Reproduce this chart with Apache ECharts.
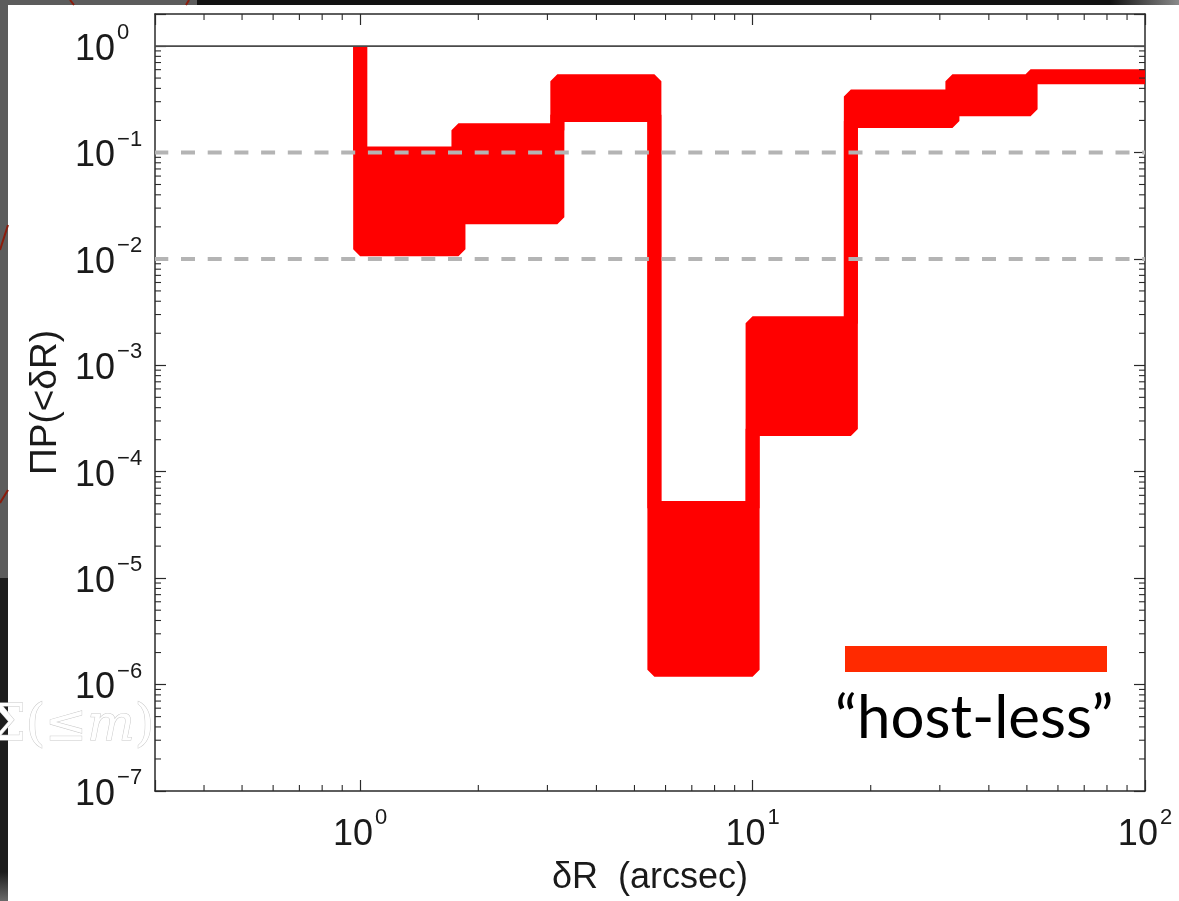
<!DOCTYPE html>
<html>
<head>
<meta charset="utf-8">
<script src="https://cdn.jsdelivr.net/npm/echarts@6/dist/echarts.min.js"></script>
<style>
  html, body { margin: 0; padding: 0; background: #ffffff; }
  #chart { width: 1179px; height: 901px; }
</style>
</head>
<body>
<div id="chart"></div>
<script>
// Cumulative chance-coincidence probability band, ΠP(<δR), against offset δR.
// Offsets (arcsec) where both bounds step to a new level.
const stepsAt      = [1.0, 1.78, 3.18, 5.62, 10.0, 17.8, 32.3, 51.1];
// Level held by each bound after each step.
const upperLevels  = [0.098, 0.162, 0.466, 4.56e-5, 2.49e-3, 0.335, 0.466, 0.52];
const lowerLevels  = [0.0123, 0.0246, 0.225, 1.38e-6, 2.52e-4, 0.198, 0.2545, 0.51];
// Both bounds begin at P = 1 at the first step.
const bandStart = 1;

// Axis ranges and reference levels.
const xRange = [0.3, 100];
const yRange = [1e-7, 2];
const refSolid = [1];
const refDashed = [0.1, 0.01];

const FONT = "'Liberation Sans', Arial, Helvetica, sans-serif";
const INK = '#1a1a1a';
const RED = '#ff0000';

// Log minor-tick positions (2..9 × 10^k) inside a range.
function minorTicks(range) {
  const out = [];
  const k0 = Math.floor(Math.log10(range[0]));
  const k1 = Math.ceil(Math.log10(range[1]));
  for (let k = k0; k <= k1; k++) {
    for (let m = 2; m <= 9; m++) {
      const v = m * Math.pow(10, k);
      if (v > range[0] * 1.0001 && v < range[1] * 0.9999) out.push(v);
    }
  }
  return out;
}
const xMinor = minorTicks(xRange);
const yMinor = minorTicks(yRange);

// Step outline of one bound, as [x, P] vertices.
function stepPath(levels) {
  const pts = [[stepsAt[0], bandStart]];
  for (let i = 0; i < levels.length; i++) {
    const xEnd = i + 1 < stepsAt.length ? stepsAt[i + 1] : xRange[1];
    pts.push([stepsAt[i], levels[i]]);
    pts.push([xEnd, levels[i]]);
  }
  return pts;
}
const upperPath = stepPath(upperLevels);
const lowerPath = stepPath(lowerLevels);

// Tick labels as 10^n with a raised exponent.
function powLabel(v) {
  const lg = Math.log10(v);
  const e = Math.round(lg);
  if (Math.abs(lg - e) > 1e-6) return '';
  return '{b|10}{s|' + (e < 0 ? '\u2212' + (-e) : String(e)) + '}';
}
const labelRich = {
  b: { fontFamily: FONT, fontSize: 36, color: INK, lineHeight: 56, verticalAlign: 'middle' },
  s: { fontFamily: FONT, fontSize: 22, color: INK, lineHeight: 24, verticalAlign: 'top', padding: [0, 0, 0, 2] }
};

const frameLine = { show: true, onZero: false, lineStyle: { color: '#2a2a2a', width: 1.5 } };
const majorTick = { show: true, inside: true, length: 11, lineStyle: { color: '#2a2a2a', width: 1.2 } };

function logAxis(range, extra) {
  return Object.assign({
    type: 'log', logBase: 10, min: range[0], max: range[1],
    axisLine: frameLine, axisTick: majorTick,
    splitLine: { show: false }, minorTick: { show: false }
  }, extra);
}

const serif = "'DejaVu Serif', 'Liberation Serif', serif";

const option = {
  animation: false,
  backgroundColor: '#ffffff',
  grid: { left: 155, right: 34, top: 14, bottom: 110, containLabel: false },
  xAxis: [
    logAxis(xRange, {
      position: 'bottom',
      axisLabel: { formatter: powLabel, rich: labelRich, margin: 16, align: 'center' },
      name: 'δR  (arcsec)', nameLocation: 'middle', nameGap: 69,
      nameTextStyle: { fontFamily: FONT, fontSize: 36, color: INK }
    }),
    logAxis(xRange, { position: 'top', axisLabel: { show: false } })
  ],
  yAxis: [
    logAxis(yRange, {
      position: 'left',
      axisLabel: { formatter: powLabel, rich: labelRich, margin: 80, align: 'left', padding: [8, 0, 0, 0] },
      name: 'ΠP(<δR)', nameLocation: 'middle', nameGap: 91,
      nameTextStyle: { fontFamily: FONT, fontSize: 37, color: INK }
    }),
    logAxis(yRange, { position: 'right', axisLabel: { show: false } })
  ],
  graphic: [
    // surrounding slide edges
    { type: 'rect', left: 0, top: 0, shape: { width: 8, height: 578 }, style: { fill: '#5c5c5c' }, silent: true },
    { type: 'rect', left: 0, top: 578, shape: { width: 8, height: 295 }, style: { fill: '#1d1d1d' }, silent: true },
    { type: 'rect', left: 0, top: 872, shape: { width: 8, height: 29 },
      style: { fill: new echarts.graphic.LinearGradient(0, 0, 0, 1, [{ offset: 0, color: '#1d1d1d' }, { offset: 1, color: '#6a6a6a' }]) }, silent: true },
    { type: 'rect', left: 0, top: 0, shape: { width: 197, height: 5 }, style: { fill: '#5c5c5c' }, silent: true },
    { type: 'rect', left: 197, top: 0, shape: { width: 915, height: 5 }, style: { fill: '#121212' }, silent: true },
    { type: 'rect', left: 1110, top: 0, shape: { width: 69, height: 5 },
      style: { fill: new echarts.graphic.LinearGradient(0, 0, 1, 0, [{ offset: 0, color: '#121212' }, { offset: 1, color: '#8a8a8a' }]) }, silent: true },
    { type: 'line', shape: { x1: 70, y1: 0, x2: 74, y2: 5 }, style: { stroke: '#8b1c0c', lineWidth: 2 }, silent: true },
    { type: 'line', shape: { x1: 186, y1: 5, x2: 189, y2: 0 }, style: { stroke: '#8b1c0c', lineWidth: 2 }, silent: true },
    { type: 'line', shape: { x1: 8, y1: 225, x2: 0, y2: 250 }, style: { stroke: '#8b1c0c', lineWidth: 2 }, silent: true },
    { type: 'line', shape: { x1: 8, y1: 490, x2: 0, y2: 503 }, style: { stroke: '#8b1c0c', lineWidth: 2 }, silent: true },
    // faint outlined formula at the left edge
    {
      type: 'text', left: -10, top: 702, silent: true,
      style: {
        text: '{a|Σ(≤}{i|m}{a|)}',
        rich: {
          a: { fontFamily: serif, fontSize: 50 },
          i: { fontFamily: serif, fontSize: 50, fontStyle: 'italic' }
        },
        fill: '#ffffff', stroke: '#c9c9c9', lineWidth: 1
      }
    },
    // "host-less" callout
    { type: 'rect', left: 845, top: 646, shape: { width: 262, height: 26 }, style: { fill: '#ff2a00' }, z: 10 },
    {
      type: 'text', left: 835, top: 689, z: 10,
      style: { text: '\u201chost-less\u201d', fontFamily: "Lato, 'Open Sans', sans-serif", fontSize: 60, fill: '#000000' }
    }
  ],
  series: [
    {
      // filled band between the bounds, outlined by thick step lines
      type: 'custom', name: 'band', coordinateSystem: 'cartesian2d',
      xAxisIndex: 0, yAxisIndex: 0, clip: true, silent: true, z: 2,
      data: [[1, 1]],
      renderItem: function (params, api) {
        const up = upperPath.map(p => api.coord(p));
        const lo = lowerPath.map(p => api.coord(p));
        const edge = { stroke: RED, fill: null, lineWidth: 14, lineJoin: 'bevel', lineCap: 'butt' };
        return {
          type: 'group',
          children: [
            { type: 'polygon', shape: { points: up.concat(lo.slice().reverse()) }, style: { fill: RED } },
            { type: 'polyline', shape: { points: up }, style: edge },
            { type: 'polyline', shape: { points: lo }, style: edge }
          ]
        };
      }
    },
    {
      // reference levels
      type: 'custom', name: 'levels', coordinateSystem: 'cartesian2d',
      xAxisIndex: 0, yAxisIndex: 0, silent: true, z: 4,
      data: [[1, 1]],
      renderItem: function (params, api) {
        const kids = [];
        refSolid.forEach(v => {
          const a = api.coord([xRange[0], v]), b = api.coord([xRange[1], v]);
          kids.push({ type: 'line', shape: { x1: a[0], y1: a[1], x2: b[0], y2: b[1] }, style: { stroke: '#4a4a4a', lineWidth: 1.8 } });
        });
        refDashed.forEach(v => {
          const a = api.coord([xRange[0], v]), b = api.coord([xRange[1], v]);
          kids.push({ type: 'line', shape: { x1: a[0], y1: a[1], x2: b[0], y2: b[1] }, style: { stroke: '#b4b4b4', lineWidth: 4, lineDash: [14, 12.7], lineDashOffset: -26 } });
        });
        return { type: 'group', children: kids };
      }
    },
    {
      // log minor ticks on all four sides of the frame
      type: 'custom', name: 'minorTicks', coordinateSystem: 'cartesian2d',
      xAxisIndex: 0, yAxisIndex: 0, silent: true, z: 5,
      data: [[1, 1]],
      renderItem: function (params, api) {
        const kids = [];
        const st = { stroke: '#2a2a2a', lineWidth: 1.1 };
        const L = 6;
        xMinor.forEach(v => {
          const b = api.coord([v, yRange[0]]), t = api.coord([v, yRange[1]]);
          kids.push({ type: 'line', shape: { x1: b[0], y1: b[1], x2: b[0], y2: b[1] - L }, style: st });
          kids.push({ type: 'line', shape: { x1: t[0], y1: t[1], x2: t[0], y2: t[1] + L }, style: st });
        });
        yMinor.forEach(v => {
          const l = api.coord([xRange[0], v]), r = api.coord([xRange[1], v]);
          kids.push({ type: 'line', shape: { x1: l[0], y1: l[1], x2: l[0] + L, y2: l[1] }, style: st });
          kids.push({ type: 'line', shape: { x1: r[0], y1: r[1], x2: r[0] - L, y2: r[1] }, style: st });
        });
        return { type: 'group', children: kids };
      }
    }
  ]
};

const chart = echarts.init(document.getElementById('chart'), null, { renderer: 'canvas' });
chart.setOption(option);
</script>
</body>
</html>
